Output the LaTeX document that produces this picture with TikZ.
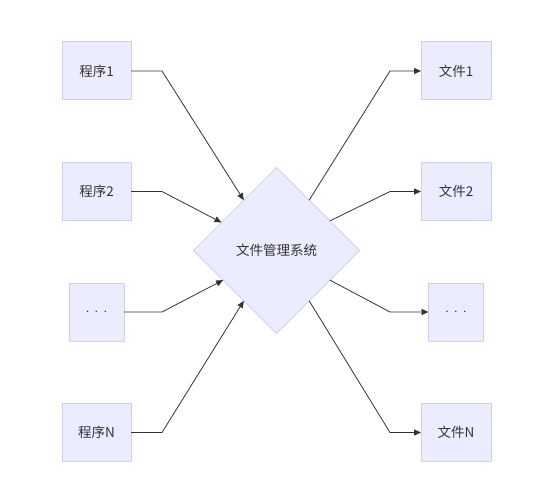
\documentclass[tikz,border=0pt]{standalone}
\usepackage{fontspec}
\setmainfont{Noto Sans CJK SC}
\usepackage{tikz}
\usetikzlibrary{shapes.geometric}
\usetikzlibrary{arrows.meta}
\definecolor{boxfill}{HTML}{ECECFF}
\definecolor{boxline}{HTML}{CFCFF2}
\definecolor{linkline}{HTML}{333333}
\newcommand{\moredots}{{\Large$\cdot$\hspace{5pt}$\cdot$\hspace{5pt}$\cdot$}}

\begin{document}
\begin{tikzpicture}[
            x = 1pt, y = -1pt, % pixel like units, y downwards
            > = {Triangle[length=7pt,width=6pt]}, % arrow head style
            node distance = 120.5pt, % distance between rows
            font = \fontsize{13.5}{15}\selectfont
        ]

        \tikzstyle{box}=[
            draw = boxline,
            fill = boxfill,
            line width = 1pt,
            minimum width = 69pt,
            minimum height = 58pt,
            outer sep = 0pt,
            text = black!80
        ]
        \tikzstyle{dotbox}=[box, minimum width = 55pt, inner xsep = 0pt]
        \tikzstyle{link}=[draw = linkline, line width = 0.8pt, ->]

        \useasboundingbox (0,0) rectangle (545,489);

        % programs
        \node[box] (P1) at (96.5,71) {程序1};
        \node[box] (P2) [below of = P1] {程序2};
        \node[dotbox] (P3) [below of = P2] {\moredots};
        \node[box] (PN) [below of = P3] {程序N};

        % files
        \node[box, minimum width = 70pt] (F1) at (456,71) {文件1};
        \node[box, minimum width = 70pt] (F2) [below of = F1] {文件2};
        \node[dotbox] (F3) [below of = F2] {\moredots};
        \node[box, minimum width = 70pt] (FN) [below of = F3] {文件N};

        % system
        \node[diamond, draw = boxline, fill = boxfill, line width = 1pt,
              minimum width = 166pt, minimum height = 166pt, inner sep = 0pt,
              outer sep = 0pt, text = black!80] (S) at (276.5,250.5) {文件管理系统};

        \coordinate (bl) at (162,0);
        \coordinate (br) at (390,0);

        \draw[link] (P1.east) -- (P1.east -| bl) -- (S.123);
        \draw[link] (P2.east) -- (P2.east -| bl) -- (S.153);
        \draw[link] (P3.east) -- (P3.east -| bl) -- (S.209);
        \draw[link] (PN.east) -- (PN.east -| bl) -- (S.237);

        \draw[link] (S.57) -- (F1.west -| br) -- (F1.west);
        \draw[link] (S.29) -- (F2.west -| br) -- (F2.west);
        \draw[link] (S.331) -- (F3.west -| br) -- (F3.west);
        \draw[link] (S.303) -- (FN.west -| br) -- (FN.west);

  \end{tikzpicture}
\end{document}
